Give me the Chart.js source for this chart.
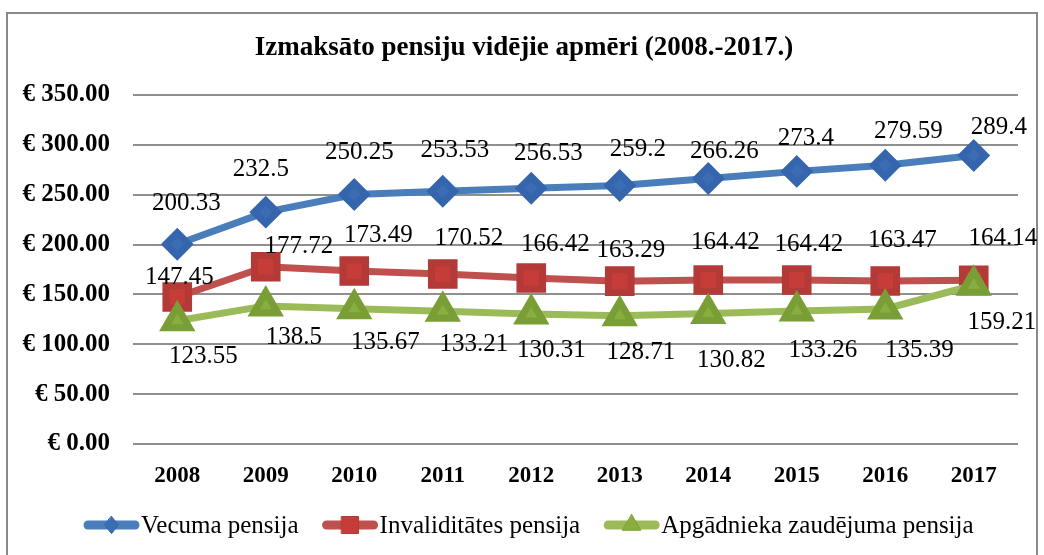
<!DOCTYPE html>
<html lang="lv">
<head>
<meta charset="UTF-8">
<title>Izmaksāto pensiju vidējie apmēri</title>
<script src="https://cdn.jsdelivr.net/npm/chart.js"></script>
<style>
  html, body { margin: 0; padding: 0; background: #fff; }
  .janela { position: relative; width: 1044px; height: 555px; overflow: hidden; }
  .ramis { position: absolute; left: 6px; top: 12px; width: 1032px; height: 580px; border: 2px solid #8a8a8a; box-sizing: border-box; }
  #grafiks { position: absolute; left: 0; top: 0; }
</style>
</head>
<body>
<div class="janela">
  <div class="ramis"></div>
  <canvas id="grafiks" width="1044" height="555"></canvas>
</div>
<script>
  // dati
  const gadi = ['2008', '2009', '2010', '2011', '2012', '2013', '2014', '2015', '2016', '2017'];
  const vecuma = [200.33, 232.5, 250.25, 253.53, 256.53, 259.2, 266.26, 273.4, 279.59, 289.4];
  const invaliditates = [147.45, 177.72, 173.49, 170.52, 166.42, 163.29, 164.42, 164.42, 163.47, 164.14];
  const apgadnieka = [123.55, 138.5, 135.67, 133.21, 130.31, 128.71, 130.82, 133.26, 135.39, 159.21];
  const yTicks = [0, 50, 100, 150, 200, 250, 300, 350];
  const nosaukumi = ['Vecuma pensija', 'Invaliditātes pensija', 'Apgādnieka zaudējuma pensija'];

  // uzrakstu nobīdes (px) attiecībā pret punktu
  const nobides = [
    { dx: [9, -5, 5, 12, 17, 18, 16, 9, 23, 25], dy: [-41, -43, -42, -41, -35, -36, -27, -33, -34, -28] },
    { dx: [2, 33, 24, 26, 24, 11, 17, 12, 17, 29], dy: [-20, -20, -36, -36, -34, -31, -38, -36, -41, -42] },
    { dx: [26, 28, 31, 31, 20, 21, 23, 26, 34, 28], dy: [36, 32, 34, 33, 36, 37, 47, 39, 41, 37] }
  ];

  const serif = '"Liberation Serif", "Times New Roman", serif';

  const dati = {
    labels: gadi,
    datasets: [{
      label: nosaukumi[0],
      data: vecuma,
      order: 2,
      borderColor: '#4a7ebb',
      backgroundColor: '#3a6db4',
      pointBorderColor: '#3566ad',
      borderWidth: 7,
      pointStyle: 'rectRot',
      pointRadius: 11.5,
      pointHoverRadius: 11.5
    }, {
      label: nosaukumi[1],
      data: invaliditates,
      order: 1,
      borderColor: '#c0504d',
      backgroundColor: '#c63c39',
      pointBorderColor: '#b33a37',
      borderWidth: 7,
      pointStyle: 'rect',
      pointRadius: 16,
      pointHoverRadius: 16
    }, {
      label: nosaukumi[2],
      data: apgadnieka,
      order: 0,
      borderColor: '#9bbb59',
      backgroundColor: '#88ae3e',
      pointBorderColor: '#7a9e36',
      borderWidth: 7,
      pointStyle: 'triangle',
      pointRadius: 14,
      pointHoverRadius: 14
    }]
  };

  function marka(ctx, stils, r, cx, y) {
    ctx.beginPath();
    if (stils === 'rectRot') {
      ctx.moveTo(cx, y - r); ctx.lineTo(cx + r * 0.8, y); ctx.lineTo(cx, y + r); ctx.lineTo(cx - r * 0.8, y);
    } else if (stils === 'rect') {
      const s = r * 0.707;
      ctx.rect(cx - s, y - s, 2 * s, 2 * s);
    } else {
      ctx.moveTo(cx, y - r); ctx.lineTo(cx + r * 0.866, y + r * 0.5); ctx.lineTo(cx - r * 0.866, y + r * 0.5);
    }
    ctx.closePath();
    ctx.fill();
    ctx.stroke();
  }

  // virsraksts, vērtību uzraksti un leģenda
  const zimejumi = {
    id: 'zimejumi',
    afterDatasetsDraw(chart) {
      const ctx = chart.ctx;
      ctx.save();
      ctx.font = '25px ' + serif;
      ctx.fillStyle = '#000';
      ctx.textAlign = 'center';
      ctx.textBaseline = 'middle';
      chart.data.datasets.forEach((ds, i) => {
        const meta = chart.getDatasetMeta(i);
        meta.data.forEach((p, j) => {
          ctx.fillText(String(ds.data[j]), p.x + nobides[i].dx[j], p.y + nobides[i].dy[j]);
        });
      });
      ctx.restore();
    },
    afterDraw(chart) {
      const ctx = chart.ctx;
      ctx.save();
      ctx.fillStyle = '#000';
      ctx.textAlign = 'center';
      ctx.textBaseline = 'middle';
      ctx.font = 'bold 27px ' + serif;
      ctx.fillText('Izmaksāto pensiju vidējie apmēri (2008.-2017.)', 524, 48);

      // leģenda
      ctx.font = '25px ' + serif;
      const parauga = 57, atstarpe = 23;
      let x = 83;
      const y = 525;
      chart.data.datasets.forEach((ds, i) => {
        ctx.strokeStyle = ds.borderColor;
        ctx.lineWidth = 9;
        ctx.lineCap = 'round';
        ctx.beginPath();
        ctx.moveTo(x + 5, y);
        ctx.lineTo(x + parauga - 5, y);
        ctx.stroke();
        ctx.fillStyle = ds.backgroundColor;
        ctx.strokeStyle = ds.pointBorderColor;
        ctx.lineWidth = 1;
        marka(ctx, ds.pointStyle, ds.pointRadius * 0.75, x + parauga / 2, y);
        ctx.fillStyle = '#000';
        ctx.textAlign = 'left';
        ctx.fillText(nosaukumi[i], x + parauga + 1, y + 1);
        x += parauga + 1 + ctx.measureText(nosaukumi[i]).width + atstarpe;
      });
      ctx.restore();
    }
  };

  new Chart(document.getElementById('grafiks'), {
    type: 'line',
    data: dati,
    options: {
      responsive: false,
      animation: false,
      events: [],
      layout: { padding: { left: 0, right: 26, top: 95, bottom: 0 } },
      plugins: { legend: { display: false }, title: { display: false }, tooltip: { enabled: false } },
      elements: { line: { tension: 0 } },
      scales: {
        x: {
          offset: true,
          grid: { display: false, drawTicks: false },
          border: { display: false },
          ticks: { color: '#000', padding: 18, font: { family: serif, size: 23, weight: 'bold' } },
          afterFit(s) { s.height = 111; }
        },
        y: {
          min: 0,
          max: 350,
          afterBuildTicks(s) { s.ticks = yTicks.map(v => ({ value: v })); },
          grid: { color: '#8f8f8f', lineWidth: 2, drawTicks: false },
          border: { display: false },
          ticks: {
            color: '#000',
            padding: 23,
            font: { family: serif, size: 25, weight: 'bold' },
            callback: v => '€ ' + Number(v).toFixed(2)
          },
          afterFit(s) { s.width = 133; }
        }
      }
    },
    plugins: [zimejumi]
  });
</script>
</body>
</html>
